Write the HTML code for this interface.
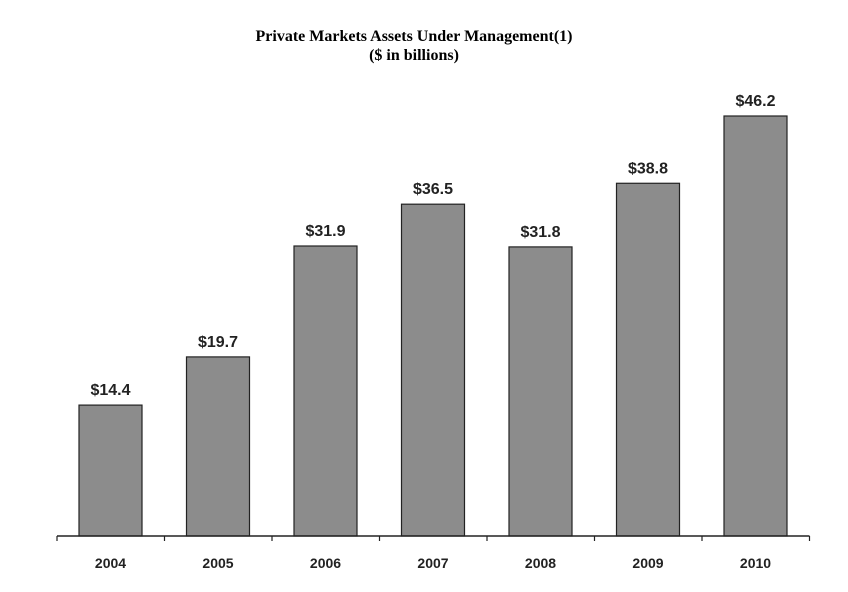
<!DOCTYPE html>
<html><head><meta charset="utf-8"><style>
body{margin:0;background:#fff;width:848px;height:592px;overflow:hidden}
svg{display:block}
</style></head><body>
<svg width="848" height="592">
<text x="414" y="41" text-anchor="middle" font-family="Liberation Serif, serif" font-weight="bold" font-size="16">Private Markets Assets Under Management(1)</text>
<text x="414" y="60" text-anchor="middle" font-family="Liberation Serif, serif" font-weight="bold" font-size="16">($ in billions)</text>
<g id="bars"></g>
</svg>
<script>
const categories=["2004","2005","2006","2007","2008","2009","2010"];
const values=[14.4,19.7,31.9,36.5,31.8,38.8,46.2];
const valueLabels=["$14.4","$19.7","$31.9","$36.5","$31.8","$38.8","$46.2"];
const svg=document.querySelector('svg');
const NS="http://www.w3.org/2000/svg";
const x0=57,step=107.5,base=536,scale=420/46.2;
const xs=i=>x0+i*step;
const ys=v=>base-v*scale;
function mk(t,a){const e=document.createElementNS(NS,t);for(const k in a)e.setAttribute(k,a[k]);svg.appendChild(e);return e;}
categories.forEach((c,i)=>{
 const b=mk('rect',{x:xs(i)+22,y:ys(values[i]),width:63,height:base-ys(values[i]),fill:'#8c8c8c',stroke:'#222','stroke-width':1.2});
 
 
 const l=mk('text',{x:xs(i)+53.5,y:ys(values[i])-10,'text-anchor':'middle','font-family':'Liberation Sans, sans-serif','font-weight':'bold','font-size':16,fill:'#222'});
 l.textContent=valueLabels[i];
 
 
 const t=mk('text',{x:xs(i)+53.5,y:568,'text-anchor':'middle','font-family':'Liberation Sans, sans-serif','font-weight':'bold','font-size':14,fill:'#222'});
 t.textContent=c;
 
 
});
for(let i=0;i<=categories.length;i++){
 const tk=mk('line',{x1:xs(i),x2:xs(i),y1:base,y2:base+5,stroke:'#222','stroke-width':1.2});
 
 
}
const ax=mk('line',{x1:x0,x2:xs(categories.length),y1:base,y2:base,stroke:'#222','stroke-width':1.5});


</script>
</body></html>
